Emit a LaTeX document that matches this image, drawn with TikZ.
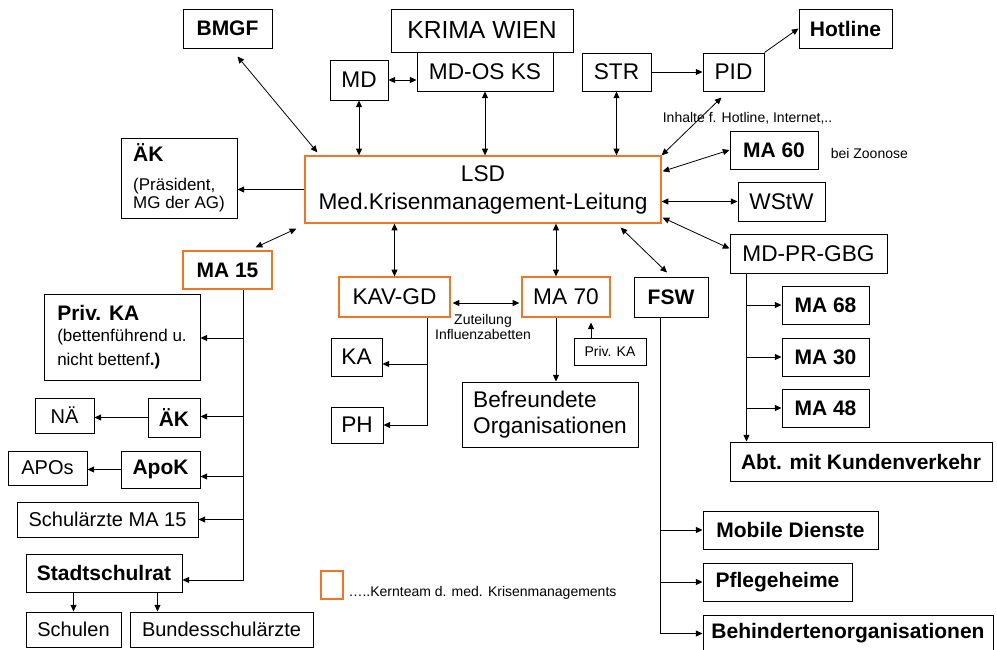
\documentclass[tikz,border=0pt]{standalone}
\usepackage{fontspec}
\setmainfont{Liberation Sans}
\usetikzlibrary{arrows.meta,calc}
\definecolor{kern}{RGB}{238,118,40}

\begin{document}
\begin{tikzpicture}[x=0.75pt,y=-0.75pt,line width=0.6pt,
        >={Triangle[length=5pt,width=4.5pt]},
        box/.style={draw,line width=0.75pt,inner sep=0pt,font=\fontsize{17}{21}\selectfont},
        kernbox/.style={box,draw=kern,line width=1pt},
        boldlbl/.style={font=\bfseries\fontsize{15.75}{19}\selectfont},
        midlbl/.style={font=\fontsize{15}{18}\selectfont},
        smalllbl/.style={font=\fontsize{10.5}{11.5}\selectfont},
        sz/.style 2 args={minimum width=#1*0.75pt,minimum height=#2*0.75pt}]
        \useasboundingbox (0,0) rectangle (997,650);
        \node[box,boldlbl,sz={89}{39}] (bmgf) at (227.5,28.5) {BMGF};
        \node[box,sz={182}{43},font=\fontsize{18.5}{22}\selectfont] (krima) at (482,30.5) {KRIMA WIEN};
        \node[box,sz={136}{39}] (mdos) at (485,71.5) {MD-OS KS};
        \node[box,sz={58}{40}] (md) at (359,80) {MD};
        \node[box,sz={69}{38}] (str) at (616.5,72) {STR};
        \node[box,sz={61}{38}] (pid) at (733.5,72) {PID};
        \node[box,boldlbl,sz={93}{39}] (hotline) at (845.5,28.5) {Hotline};
        \node[kernbox,sz={356}{67},align=center] (lsd) at (483,189.5) {LSD\\Med.Krisenmanagement-Leitung};
        \node[box,sz={116}{80},align=left,font=\fontsize{12.75}{13.5}\selectfont] (aekp) at (179,178)
            {{\bfseries\fontsize{15.75}{19}\selectfont ÄK}\\[8pt](Präsident,\\MG der AG)};
        \node[box,boldlbl,sz={88}{38}] (ma60) at (774,150) {MA 60};
        \node[smalllbl,anchor=west] (zoon) at (826,153) {bei Zoonose};
        \node[smalllbl,anchor=west] (inh) at (658,118) {Inhalte f. Hotline, Internet,..};
        \node[box,sz={87}{39}] (wstw) at (781.5,201.5) {WStW};
        \node[box,sz={157}{39}] (mdpr) at (808.5,253.5) {MD-PR-GBG};
        \node[box,boldlbl,sz={87}{38}] (ma68) at (825.5,305) {MA 68};
        \node[box,boldlbl,sz={87}{38}] (ma30) at (825.5,357) {MA 30};
        \node[box,boldlbl,sz={87}{38}] (ma48) at (825.5,408) {MA 48};
        \node[box,boldlbl,sz={262}{39}] (abt) at (861,461.5) {Abt. mit Kundenverkehr};
        \node[box,boldlbl,sz={74}{40}] (fsw) at (671,297) {FSW};
        \node[box,boldlbl,sz={175}{38}] (mobil) at (790.5,530) {Mobile Dienste};
        \node[box,boldlbl,sz={149}{38}] (pflege) at (777.5,582) {Pflegeheime};
        \node[box,boldlbl,sz={290}{37}] (behind) at (848,633.5) {Behindertenorganisationen};

        \node[kernbox,boldlbl,sz={89}{38}] (ma15) at (227.5,270) {MA 15};
        \node[box,sz={156}{86},align=left,font=\fontsize{12.75}{16}\selectfont] (privka) at (122,337)
            {{\bfseries\fontsize{15.75}{19}\selectfont Priv. KA}\\(bettenführend u.\\[2pt]nicht bettenf\textbf{.)}};
        \node[box,boldlbl,sz={52}{39}] (aek) at (174,417.5) {ÄK};
        \node[box,midlbl,sz={59}{35}] (nae) at (64.5,415.5) {NÄ};
        \node[box,boldlbl,sz={79}{37}] (apok) at (160.5,469.5) {ApoK};
        \node[box,midlbl,sz={79}{34}] (apos) at (47.5,468) {APOs};
        \node[box,midlbl,sz={181}{35}] (schul) at (107.5,519.5) {Schulärzte MA 15};
        \node[box,boldlbl,sz={156}{38}] (ssr) at (104,573) {Stadtschulrat};
        \node[box,midlbl,sz={95}{35}] (schulen) at (73.5,629.5) {Schulen};
        \node[box,midlbl,sz={183}{35}] (bund) at (221.5,629.5) {Bundesschulärzte};

        \node[kernbox,sz={111}{40}] (kav) at (394.5,297) {KAV-GD};
        \node[kernbox,sz={88}{40}] (ma70) at (566,297) {MA 70};
        \node[smalllbl,align=center] (zut) at (483,327) {Zuteilung\\Influenzabetten};
        \node[box,sz={51}{38}] (ka) at (356.5,357) {KA};
        \node[box,sz={52}{36}] (ph) at (357,425) {PH};
        \node[box,sz={176}{65},align=left,font=\fontsize{17}{19.5}\selectfont] (befr) at (550,414.5) {Befreundete\\Organisationen};
        \node[box,smalllbl,sz={72}{27}] (privkb) at (610,351.5) {Priv. KA};

        \node[kernbox,sz={22}{28}] (leg) at (332,585) {};
        \node[smalllbl,anchor=west] (legtxt) at ($(leg.east)+(0,8)$) {\ldots..Kernteam d. med. Krisenmanagements};

        \coordinate (ma15x) at ($(ma15.south)+(15.5,0)$);
        \coordinate (kavx) at ($(kav.south)+(32.5,0)$);
        \coordinate (ma70x) at ($(ma70.south)+(-10,0)$);
        \coordinate (mdprx) at ($(mdpr.south west)+(17,0)$);
        \coordinate (fswx) at ($(fsw.south)+(-11,0)$);
        \coordinate (bundx) at ($(bund.north west)+(28,0)$);

        \path[<->] ($(bmgf.south)+(10,8)$) edge ($(lsd.north west)+(13,-3)$)
            (md.south) edge (md.south |- lsd.north)
            (md.east) edge (md.east -| mdos.west)
            (mdos.south) edge (mdos.south |- lsd.north)
            (str.south) edge (str.south |- lsd.north)
            (lsd.north east) edge ($(pid.south)+(-12,6)$)
            ($(lsd.north east)+(1,16)$) edge (ma60.west)
            (wstw.west -| lsd.east) edge (wstw.west)
            ($(lsd.south east)+(1,-6)$) edge ($(mdpr.west)+(0,-5)$)
            ($(lsd.south east)+(-41,4)$) edge ($(fsw.north)+(-4,-4)$)
            ($(lsd.south west)+(-8,5)$) edge ($(ma15.north east)+(-17,-3)$)
            (kav.north) edge (kav.north |- lsd.south)
            (ma70x |- lsd.south) edge (ma70x |- ma70.north)
            ($(kav.east)+(2,6)$) edge ($(ma70.west)+(-2,6)$);
        \path[->] (str.east) edge (pid.west)
            (pid.north east) edge (hotline.west)
            (lsd.west) edge (lsd.west -| aekp.east)
            (aek.west) edge (aek.west -| nae.east)
            (apok.west) edge (apok.west -| apos.east)
            (ssr.south -| schulen.north) edge (schulen.north)
            (bundx |- ssr.south) edge (bundx)
            (ma70x) edge (ma70x |- befr.north)
            ($(privkb.north)+(-19,0)$) edge ($(privkb.north)+(-19,-15)$)
            (mdprx) edge (mdprx |- abt.north);

        \draw[->] (ma15x) |- ($(ssr.east)+(0,7)$);
        \foreach \n/\dy in {privka/1,aek/-1,apok/7,schul/0}
            \draw[->] ($(ma15x |- \n.east)+(0,\dy)$) -- ($(\n.east)+(0,\dy)$);
        \draw[->] (kavx) |- (ph.east);
        \draw[->] ($(kavx |- ka.east)+(0,7)$) -- ($(ka.east)+(0,7)$);
        \foreach \n in {ma68,ma30,ma48}
            \draw[->] (mdprx |- \n.west) -- (\n.west);
        \draw[->] (fswx) |- (behind.west);
        \foreach \n in {mobil,pflege}
            \draw[->] (fswx |- \n.west) -- (\n.west);
    \end{tikzpicture}
\end{document}
